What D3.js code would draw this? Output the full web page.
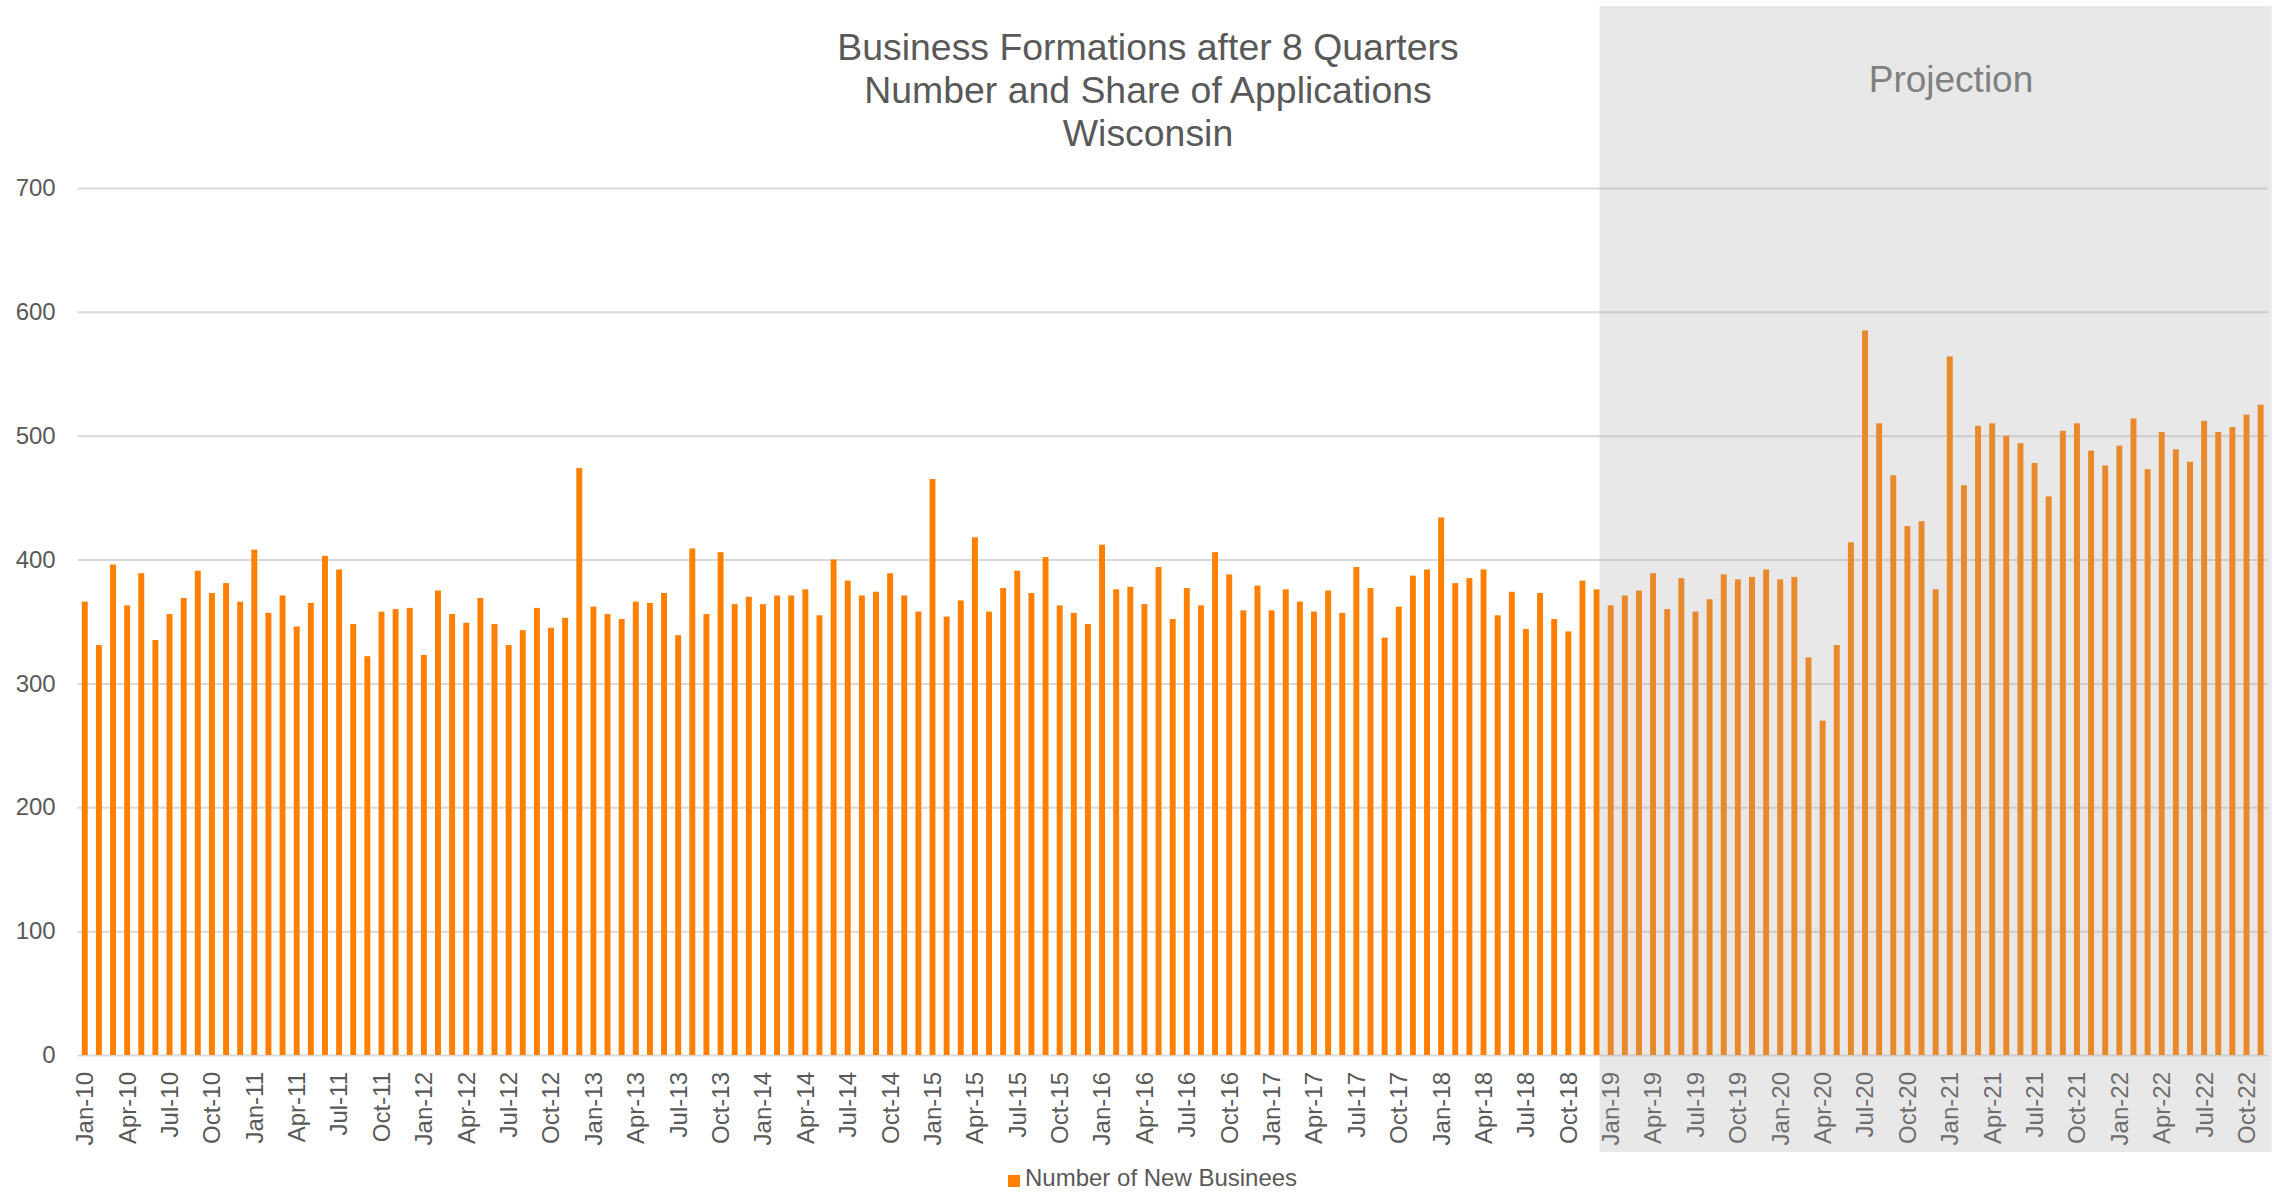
<!DOCTYPE html>
<html>
<head>
<meta charset="utf-8">
<script src="https://cdn.jsdelivr.net/npm/d3@7"></script>
<style>
  body { margin: 0; background: #fff; }
  svg { display: block; font-family: "Liberation Sans", Arial, sans-serif; }
</style>
</head>
<body>
<div id="chart"></div>
<script>
// Monthly series, Jan-10 .. Nov-22
const MONTHS = ["Jan", "Feb", "Mar", "Apr", "May", "Jun", "Jul", "Aug", "Sep", "Oct", "Nov", "Dec"]
const YEARS = ["10", "11", "12", "13", "14", "15", "16", "17", "18", "19", "20", "21", "22"]

const newBusinesses = [
  366, 331, 396, 363, 389, 335, 356, 369, 391, 373, 381, 366,
  408, 357, 371, 346, 365, 403, 392, 348, 322, 358, 360, 361,
  323, 375, 356, 349, 369, 348, 331, 343, 361, 345, 353, 474,
  362, 356, 352, 366, 365, 373, 339, 409, 356, 406, 364, 370,
  364, 371, 371, 376, 355, 400, 383, 371, 374, 389, 371, 358,
  465, 354, 367, 418, 358, 377, 391, 373, 402, 363, 357, 348,
  412, 376, 378, 364, 394, 352, 377, 363, 406, 388, 359, 379,
  359, 376, 366, 358, 375, 357, 394, 377, 337, 362, 387, 392,
  434, 381, 385, 392, 355, 374, 344, 373, 352, 342, 383, 376,
  363, 371, 375, 389, 360, 385, 358, 368, 388, 384, 386, 392,
  384, 386, 321, 270, 331, 414, 585, 510, 468, 427, 431, 376,
  564, 460, 508, 510, 500, 494, 478, 451, 504, 510, 488, 476,
  492, 514, 473, 503, 489, 479, 512, 503, 507, 517, 525
]

const yTicks = [0, 100, 200, 300, 400, 500, 600, 700]
const titleLines = ["Business Formations after 8 Quarters", "Number and Share of Applications", "Wisconsin"]
const seriesName = "Number of New Businees"
const lastActual = "Dec-18"
const projectionLabel = "Projection"

const months = []
YEARS.forEach(y => MONTHS.forEach(m => months.push(`${m}-${y}`)))
months.length = newBusinesses.length
const tickLabels = months.filter((d, i) => i % 3 === 0)

const width = 2287
const height = 1192
const plot = { left: 77.7, right: 2267.7, top: 188, bottom: 1055 }

const svg = d3.select("#chart")
  .append("svg")
  .attr("width", width)
  .attr("height", height)

const x = d3.scaleBand()
  .domain(months)
  .range([plot.left, plot.right])
  .paddingInner(0.58)
  .paddingOuter(0.29)

const y = d3.scaleLinear().domain([0, 700]).range([plot.bottom, plot.top])

// Gridlines + y labels
const yAxis = svg.append("g")
  .attr("transform", `translate(${plot.left},0)`)
  .call(d3.axisLeft(y).tickValues(yTicks).tickSize(-(plot.right - plot.left)).tickPadding(22))
yAxis.select(".domain").remove()
yAxis.selectAll(".tick line").attr("stroke", "#d9d9d9").attr("stroke-width", 2)
yAxis.selectAll("text")
  .attr("fill", "#595959")
  .attr("font-size", "24px")
  .attr("font-family", "Liberation Sans, Arial, sans-serif")

// Bars
svg.append("g")
  .selectAll("rect")
  .data(newBusinesses)
  .enter()
  .append("rect")
  .attr("x", (d, i) => x(months[i]))
  .attr("y", d => y(d))
  .attr("width", x.bandwidth())
  .attr("height", d => y(0) - y(d))
  .attr("fill", "#ff8000")

// X axis labels, every quarter
const xAxis = svg.append("g")
  .attr("transform", `translate(0,${plot.bottom})`)
  .call(d3.axisBottom(x).tickValues(tickLabels).tickSize(0))
xAxis.select(".domain").remove()
xAxis.selectAll("text")
  .attr("transform", "rotate(-90)")
  .attr("x", -17)
  .attr("y", 0)
  .attr("dy", "0.35em")
  .attr("text-anchor", "end")
  .attr("fill", "#595959")
  .attr("font-size", "24px")
  .attr("font-family", "Liberation Sans, Arial, sans-serif")

// Projection shading (semi-transparent overlay)
const shadeX = x(lastActual) + x.bandwidth()
svg.append("rect")
  .attr("x", shadeX)
  .attr("y", 6)
  .attr("width", plot.right + 4 - shadeX)
  .attr("height", 1146)
  .attr("fill", "rgb(166,166,166)")
  .attr("fill-opacity", 0.26)

svg.append("text")
  .attr("x", 1951)
  .attr("y", 92)
  .attr("text-anchor", "middle")
  .attr("fill", "#808080")
  .attr("font-size", "37px")
  .text(projectionLabel)

// Title
svg.append("g")
  .selectAll("text")
  .data(titleLines)
  .enter()
  .append("text")
  .attr("x", 1148)
  .attr("y", (d, i) => 60 + i * 43)
  .attr("text-anchor", "middle")
  .attr("fill", "#595959")
  .attr("font-size", "37.4px")
  .text(d => d)

// Legend
svg.append("rect")
  .attr("x", 1008).attr("y", 1175)
  .attr("width", 12).attr("height", 12)
  .attr("fill", "#ff8000")
svg.append("text")
  .attr("x", 1025).attr("y", 1186)
  .attr("fill", "#595959")
  .attr("font-size", "24px")
  .text(seriesName)
</script>
</body>
</html>
